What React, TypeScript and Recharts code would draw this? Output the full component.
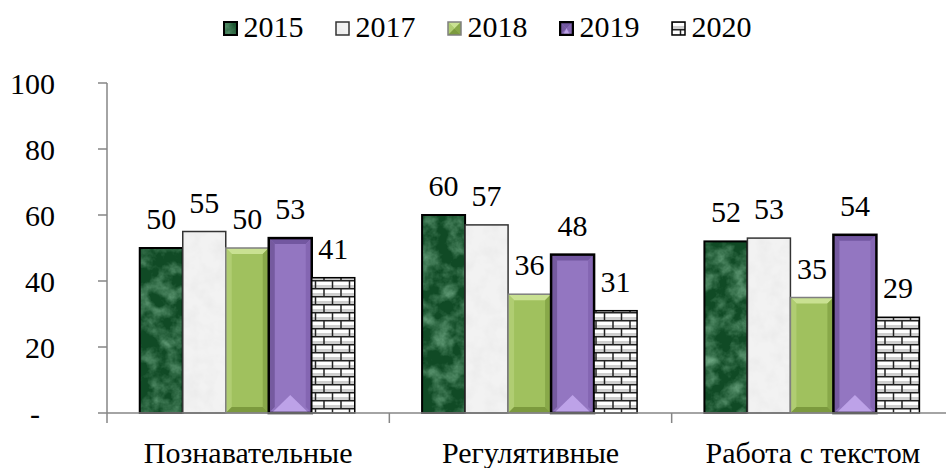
import React from 'react';
import { BarChart, Bar, XAxis, YAxis, Legend, LabelList } from 'recharts';

const categories = ['Познавательные', 'Регулятивные', 'Работа с текстом'];
const v2015 = [50, 60, 52];
const v2017 = [55, 57, 53];
const v2018 = [50, 36, 35];
const v2019 = [53, 48, 54];
const v2020 = [41, 31, 29];
const yTicks = [0, 20, 40, 60, 80, 100];

const seriesNames = ['2015', '2017', '2018', '2019', '2020'];
const seriesKinds = ['marble', 'paper', 'olive', 'purple', 'brick'];

const data = categories.map((name, i) => ({
  name,
  y2015: v2015[i],
  y2017: v2017[i],
  y2018: v2018[i],
  y2019: v2019[i],
  y2020: v2020[i],
}));

const FONT = '"Liberation Serif", serif';
const AXIS = '#868686';
const CHART_W = 960;
const CHART_H = 468;
const Y_AXIS_W = 107;
const MARGIN = { top: 0, right: 6, bottom: 0, left: 0 };
const X_TICK_SIZE = 9;
const X_TICK_MARGIN = 20;
const HALF_BAND = (CHART_W - Y_AXIS_W - MARGIN.right - MARGIN.left) / categories.length / 2;

function Defs() {
  return (
    <svg width={0} height={0} style={{ position: 'absolute' }}>
      <defs>
        <filter id="fMarble" x="0" y="0" width="100%" height="100%">
          <feTurbulence type="fractalNoise" baseFrequency="0.06" numOctaves={4} seed={11} />
          <feColorMatrix
            type="matrix"
            values="0 0 0 0 0.20  0 0 0 0 0.46  0 0 0 0 0.28  1.5 0 0 0 -0.55"
          />
        </filter>
        <filter id="fPaper" x="0" y="0" width="100%" height="100%">
          <feTurbulence type="fractalNoise" baseFrequency="0.07" numOctaves={3} seed={3} />
          <feColorMatrix
            type="matrix"
            values="0 0 0 0 0.82  0 0 0 0 0.82  0 0 0 0 0.82  1.6 0 0 0 -0.62"
          />
        </filter>
        <pattern id="pMarble" patternUnits="userSpaceOnUse" width={1000} height={600}>
          <rect width={1000} height={600} fill="#104a25" />
          <rect width={1000} height={600} filter="url(#fMarble)" />
        </pattern>
        <pattern id="pPaper" patternUnits="userSpaceOnUse" width={1000} height={600}>
          <rect width={1000} height={600} fill="#f2f2f2" />
          <rect width={1000} height={600} filter="url(#fPaper)" />
        </pattern>
        <pattern id="pBrick" patternUnits="userSpaceOnUse" width={17} height={16}>
          <rect width={17} height={16} fill="#ffffff" />
          <rect x={0} y={5} width={17} height={3} fill="#cfcfcf" />
          <rect x={0} y={13} width={17} height={3} fill="#cfcfcf" />
          <line x1={0} y1={0.75} x2={17} y2={0.75} stroke="#222" strokeWidth={1.5} />
          <line x1={0} y1={8.75} x2={17} y2={8.75} stroke="#222" strokeWidth={1.5} />
          <line x1={1} y1={0} x2={1} y2={8} stroke="#222" strokeWidth={1.5} />
          <line x1={9.5} y1={8} x2={9.5} y2={16} stroke="#222" strokeWidth={1.5} />
        </pattern>
      </defs>
    </svg>
  );
}

function Bevel({ x, y, w, h, kind }: { x: number; y: number; w: number; h: number; kind: string }) {
  if (kind === 'olive') {
    const b = Math.min(6, h / 2);
    return (
      <g>
        <rect x={x} y={y} width={w} height={h} fill="#a0c15e" />
        <polygon points={`${x},${y} ${x + w},${y} ${x + w - b},${y + b} ${x + b},${y + b}`} fill="#c9e192" />
        <polygon points={`${x},${y} ${x + b},${y + b} ${x + b},${y + h - b} ${x},${y + h}`} fill="#b0cd72" />
        <polygon points={`${x + w},${y} ${x + w - b},${y + b} ${x + w - b},${y + h - b} ${x + w},${y + h}`} fill="#88a849" />
        <polygon points={`${x},${y + h} ${x + b},${y + h - b} ${x + w - b},${y + h - b} ${x + w},${y + h}`} fill="#7c9a3e" />
        <rect x={x} y={y} width={w} height={h} fill="none" stroke="#7f7f7f" strokeWidth={1.5} />
      </g>
    );
  }
  const b = Math.min(6, h / 2);
  const t = Math.min(18, h / 2);
  return (
    <g>
      <rect x={x} y={y} width={w} height={h} fill="#9376c1" />
      <polygon points={`${x},${y} ${x + w},${y} ${x + w - b},${y + b} ${x + b},${y + b}`} fill="#7257a0" />
      <polygon points={`${x},${y} ${x + b},${y + b} ${x + b},${y + h - b} ${x},${y + h}`} fill="#755a9f" />
      <polygon points={`${x + w},${y} ${x + w - b},${y + b} ${x + w - b},${y + h - b} ${x + w},${y + h}`} fill="#8466b2" />
      <polygon points={`${x + 3},${y + h} ${x + w / 2},${y + h - t} ${x + w - 3},${y + h}`} fill="#bda2e8" />
      <rect x={x} y={y} width={w} height={h} fill="none" stroke="#000" strokeWidth={2.5} />
    </g>
  );
}

function BarShape(props: any) {
  const { x, y, width, height, kind } = props;
  if (height <= 0) return null;
  if (kind === 'olive' || kind === 'purple') {
    return <Bevel x={x} y={y} w={width} h={height} kind={kind} />;
  }
  const fill = kind === 'marble' ? 'url(#pMarble)' : kind === 'paper' ? 'url(#pPaper)' : 'url(#pBrick)';
  const stroke = kind === 'paper' ? '#333' : '#000';
  const sw = kind === 'marble' ? 2 : 1.5;
  return <rect x={x} y={y} width={width} height={height} fill={fill} stroke={stroke} strokeWidth={sw} />;
}

function LegendIcon({ kind }: { kind: string }) {
  return (
    <svg width={15} height={15} style={{ display: 'block' }}>
      <BarShape x={1} y={1} width={13} height={13} kind={kind} />
    </svg>
  );
}

function LegendContent() {
  return (
    <div
      style={{
        height: 83,
        boxSizing: 'border-box',
        paddingTop: 12,
        paddingLeft: 20,
        display: 'flex',
        justifyContent: 'center',
        alignItems: 'flex-start',
        fontFamily: FONT,
        fontSize: 30,
        lineHeight: '30px',
        color: '#000',
      }}
    >
      {seriesNames.map((n, i) => (
        <div
          key={n}
          style={{ display: 'flex', alignItems: 'center', marginRight: i < seriesNames.length - 1 ? 31 : 0 }}
        >
          <div style={{ marginRight: 6, marginTop: 3 }}>
            <LegendIcon kind={seriesKinds[i]} />
          </div>
          <span>{n}</span>
        </div>
      ))}
    </div>
  );
}

function YTick(props: any) {
  const { x, y, payload } = props;
  const isZero = payload.value === 0;
  return (
    <text
      x={isZero ? x - 15 : x}
      y={y}
      dy="0.35em"
      textAnchor="end"
      style={{ fontFamily: FONT, fontSize: 30 }}
      fill="#000"
    >
      {isZero ? '-' : payload.value}
    </text>
  );
}

function XTick(props: any) {
  const { x, y, payload } = props;
  const axisY = y - X_TICK_SIZE - X_TICK_MARGIN;
  return (
    <g>
      <line x1={x - HALF_BAND} y1={axisY} x2={x - HALF_BAND} y2={axisY + 10} stroke={AXIS} strokeWidth={1.5} />
      <text x={x} y={y} dy="0.71em" textAnchor="middle" style={{ fontFamily: FONT, fontSize: 30 }} fill="#000">
        {payload.value}
      </text>
    </g>
  );
}

export default function App() {
  const keys = ['y2015', 'y2017', 'y2018', 'y2019', 'y2020'];
  return (
    <div
      style={{
        position: 'absolute',
        left: 0,
        top: 0,
        width: 946,
        height: 468,
        overflow: 'hidden',
        background: '#fff',
        fontFamily: FONT,
      }}
    >
      <Defs />
      <BarChart
        width={CHART_W}
        height={CHART_H}
        data={data}
        margin={MARGIN}
        barCategoryGap="11.6%"
        barGap={0}
      >
        <Legend verticalAlign="top" align="center" content={<LegendContent />} />
        <XAxis
          dataKey="name"
          axisLine={{ stroke: AXIS, strokeWidth: 1.5 }}
          tickLine={false}
          tickSize={X_TICK_SIZE}
          tickMargin={X_TICK_MARGIN}
          tick={<XTick />}
          height={55}
          interval={0}
        />
        <YAxis
          domain={[0, 100]}
          ticks={yTicks}
          width={Y_AXIS_W}
          axisLine={{ stroke: AXIS, strokeWidth: 1.5 }}
          tickLine={{ stroke: AXIS, strokeWidth: 1.5 }}
          tickSize={9}
          tickMargin={43}
          tick={<YTick />}
          interval={0}
        />
        {keys.map((k, i) => (
          <Bar
            key={k}
            dataKey={k}
            name={seriesNames[i]}
            isAnimationActive={false}
            shape={(p: any) => <BarShape {...p} kind={seriesKinds[i]} />}
          >
            <LabelList
              dataKey={k}
              position="top"
              offset={19}
              fill="#000"
              style={{ fontFamily: FONT, fontSize: 30, fill: '#000' }}
            />
          </Bar>
        ))}
      </BarChart>
    </div>
  );
}
